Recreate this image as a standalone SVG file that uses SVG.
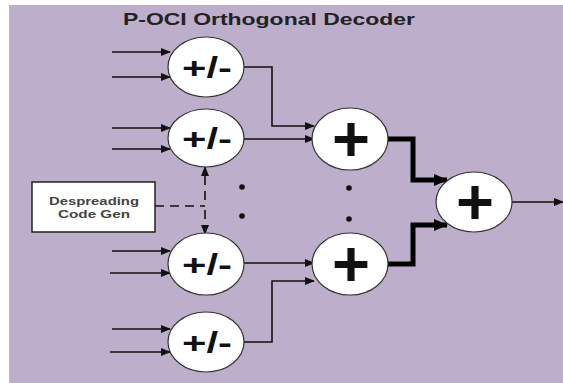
<svg xmlns="http://www.w3.org/2000/svg" width="563" height="383" viewBox="0 0 563 383">
<style>
.bg{fill:#bdaecb}
.node{fill:#ffffff;stroke:#333;stroke-width:1.2}
.pm{font-family:"Liberation Sans",Arial,sans-serif;font-weight:bold;font-size:30px;fill:#111;text-anchor:middle}
.plus{font-family:"Liberation Sans",Arial,sans-serif;font-weight:bold;font-size:64px;fill:#111;text-anchor:middle}
.ln{fill:none;stroke:#111;stroke-width:1.6}
.thick{fill:none;stroke:#000;stroke-width:5}
.dash{fill:none;stroke:#111;stroke-width:1.6;stroke-dasharray:9 6}
.lbl{font-family:"Liberation Sans",Arial,sans-serif;font-weight:bold;font-size:10.5px;fill:#444;text-anchor:middle}
.title{font-family:"Liberation Sans",Arial,sans-serif;font-weight:bold;font-size:16.5px;fill:#222;text-anchor:middle}
.dot{fill:#111}
</style>
<defs>
<marker id="a" markerUnits="userSpaceOnUse" markerWidth="10" markerHeight="8" refX="9" refY="4" orient="auto"><path d="M0,0 L10,4 L0,8 Z" fill="#111"/></marker>
<marker id="b" markerUnits="userSpaceOnUse" markerWidth="14" markerHeight="12" refX="13" refY="6" orient="auto"><path d="M0,0 L14,6 L0,12 Z" fill="#000"/></marker>
</defs>
<rect x="9" y="5" width="554" height="378" class="bg"/>
<text class="title" x="269" y="25" textLength="292" lengthAdjust="spacingAndGlyphs">P-OCI Orthogonal Decoder</text>

<g id="connectors">
<line class="ln" x1="112" y1="52" x2="170" y2="52" marker-end="url(#a)"/>
<line class="ln" x1="112" y1="77" x2="170" y2="77" marker-end="url(#a)"/>
<line class="ln" x1="112" y1="128" x2="170" y2="128" marker-end="url(#a)"/>
<line class="ln" x1="112" y1="149" x2="170" y2="149" marker-end="url(#a)"/>
<line class="ln" x1="112" y1="251" x2="170" y2="251" marker-end="url(#a)"/>
<line class="ln" x1="110" y1="273" x2="170" y2="273" marker-end="url(#a)"/>
<line class="ln" x1="112" y1="329" x2="170" y2="329" marker-end="url(#a)"/>
<line class="ln" x1="110" y1="352" x2="170" y2="352" marker-end="url(#a)"/>
<polyline class="ln" points="244,67 272,67 272,126 314,126" marker-end="url(#a)"/>
<line class="ln" x1="244" y1="139" x2="314" y2="139" marker-end="url(#a)"/>
<line class="ln" x1="244" y1="263" x2="314" y2="263" marker-end="url(#a)"/>
<polyline class="ln" points="244,342 272,342 272,281 314,281" marker-end="url(#a)"/>
<polyline class="thick" points="388,139 413,139 413,180 447,180" marker-end="url(#b)"/>
<polyline class="thick" points="388,264 413,264 413,225 447,225" marker-end="url(#b)"/>
<line class="ln" x1="512" y1="202" x2="563" y2="202" marker-end="url(#a)"/>
<line class="dash" x1="155" y1="206" x2="205" y2="206"/>
<line class="dash" x1="205" y1="200" x2="205" y2="167" marker-end="url(#a)"/>
<line class="dash" x1="205" y1="210" x2="205" y2="234" marker-end="url(#a)"/>
</g>

<circle class="dot" cx="242" cy="187" r="2.8"/>
<circle class="dot" cx="242" cy="216" r="2.8"/>
<circle class="dot" cx="349" cy="188" r="2.8"/>
<circle class="dot" cx="349" cy="219" r="2.8"/>

<g id="pm1"><ellipse class="node" cx="206" cy="67" rx="38" ry="30"/><text class="pm" x="207" y="78" textLength="50" lengthAdjust="spacingAndGlyphs">+/-</text></g>
<g id="pm2"><ellipse class="node" cx="206" cy="138" rx="38" ry="29"/><text class="pm" x="207" y="149" textLength="50" lengthAdjust="spacingAndGlyphs">+/-</text></g>
<g id="pm3"><ellipse class="node" cx="206" cy="264" rx="38" ry="31"/><text class="pm" x="207" y="275" textLength="50" lengthAdjust="spacingAndGlyphs">+/-</text></g>
<g id="pm4"><ellipse class="node" cx="206" cy="342" rx="38" ry="30"/><text class="pm" x="207" y="353" textLength="50" lengthAdjust="spacingAndGlyphs">+/-</text></g>

<g id="sum1"><ellipse class="node" cx="350" cy="139" rx="38" ry="31"/><text class="plus" x="351" y="161" textLength="38" lengthAdjust="spacingAndGlyphs">+</text></g>
<g id="sum2"><ellipse class="node" cx="350" cy="264" rx="38" ry="31"/><text class="plus" x="351" y="286" textLength="38" lengthAdjust="spacingAndGlyphs">+</text></g>
<g id="sum3"><ellipse class="node" cx="474" cy="202" rx="38" ry="30"/><text class="plus" x="475" y="224" textLength="38" lengthAdjust="spacingAndGlyphs">+</text></g>

<g id="codegen"><rect x="32" y="182" width="123" height="50" fill="#fff" stroke="#222" stroke-width="1.5"/>
<text class="lbl" x="94" y="205" textLength="90" lengthAdjust="spacingAndGlyphs">Despreading</text>
<text class="lbl" x="94" y="218" textLength="72" lengthAdjust="spacingAndGlyphs">Code Gen</text></g>
</svg>
